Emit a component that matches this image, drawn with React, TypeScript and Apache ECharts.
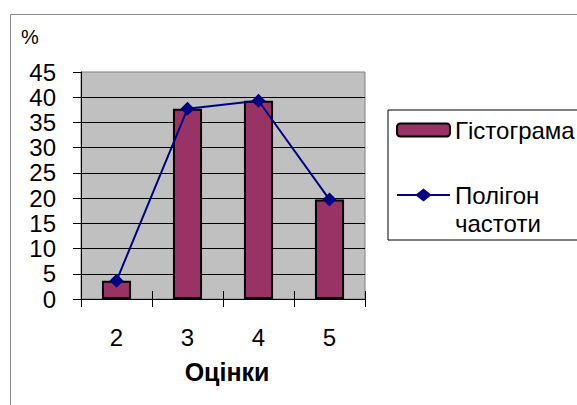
import React, { useEffect, useRef } from "react";
import * as echarts from "echarts";

const categories = ["2", "3", "4", "5"];
const histogramValues = [3.6, 37.7, 39.3, 19.7];
const polygonValues = [3.6, 37.7, 39.3, 19.7];
const barName = "Гістограма";
const lineName = "Полігон\nчастоти";
const xTitle = "Оцінки";
const yUnit = "%";

const FONT = 'Arial, "Liberation Sans", sans-serif';
const LINE_ICON = "path://M0,5.5 H19.5 L26.5,0 L33.5,5.5 H53 V7.5 H33.5 L26.5,13 L19.5,7.5 H0 Z";

export default function App() {
  const ref = useRef<HTMLDivElement>(null);
  useEffect(() => {
    if (!ref.current) return;
    const chart = echarts.init(ref.current, undefined, { renderer: "svg" });
    chart.setOption({
      animation: false,
      backgroundColor: "#ffffff",
      textStyle: { fontFamily: FONT },
      title: {
        text: yUnit,
        left: 21,
        top: 27,
        padding: 0,
        textStyle: { fontSize: 20, fontWeight: "normal", color: "#000", fontFamily: FONT },
      },
      graphic: [
        {
          type: "rect",
          shape: { x: 10.5, y: 14.5, width: 700, height: 500 },
          style: { fill: "none", stroke: "#8c8c8c", lineWidth: 1 },
          silent: true,
          z: -1,
        },
      ],
      grid: {
        left: 81,
        right: 212,
        top: 72,
        bottom: 106,
        show: true,
        backgroundColor: "#C0C0C0",
        borderColor: "#808080",
        borderWidth: 1,
        outerBoundsMode: "none",
      },
      legend: {
        orient: "vertical",
        left: 388,
        top: 110,
        padding: [6, 24, 3, 8],
        itemWidth: 53,
        itemHeight: 13,
        itemGap: 9,
        selectedMode: false,
        borderColor: "#000",
        borderWidth: 1,
        backgroundColor: "#fff",
        textStyle: { fontSize: 24, lineHeight: 28, color: "#000", fontFamily: FONT },
        formatter: (name: string) => (name === lineName ? "\n" + name : name),
        data: [
          { name: barName },
          { name: lineName, icon: LINE_ICON, itemStyle: { color: "#000080", borderWidth: 0 } },
        ],
      },
      xAxis: [
        {
          type: "category",
          data: categories,
          position: "bottom",
          axisLine: { lineStyle: { color: "#000", width: 1 } },
          axisTick: { show: true, length: 8, lineStyle: { color: "#000" } },
          axisLabel: { fontSize: 24, color: "#000", margin: 26, fontFamily: FONT },
          name: xTitle,
          nameLocation: "middle",
          nameGap: 60,
          nameTextStyle: { fontSize: 25, fontWeight: "bold", color: "#000", fontFamily: FONT, padding: [0, 0, 0, 8] },
        },
        {
          type: "category",
          data: categories,
          position: "bottom",
          axisLine: { show: false },
          axisTick: { show: true, inside: true, length: 8, lineStyle: { color: "#000" } },
          axisLabel: { show: false },
        },
      ],
      yAxis: {
        type: "value",
        min: 0,
        max: 45,
        interval: 5,
        axisLine: { show: true, lineStyle: { color: "#000", width: 1 } },
        axisTick: { show: true, length: 8, lineStyle: { color: "#000" } },
        axisLabel: { fontSize: 24, color: "#000", margin: 25, fontFamily: FONT },
        splitLine: { show: true, showMinLine: false, showMaxLine: false, lineStyle: { color: "#000", width: 1 } },
      },
      series: [
        {
          name: barName,
          type: "bar",
          data: histogramValues,
          barWidth: "41%",
          itemStyle: { color: "#993366", borderColor: "#000", borderWidth: 2 },
        },
        {
          name: lineName,
          type: "line",
          data: polygonValues,
          symbol: "diamond",
          symbolSize: 14,
          lineStyle: { color: "#000080", width: 2 },
          itemStyle: { color: "#000080" },
          z: 3,
        },
      ],
    });
    return () => chart.dispose();
  }, []);
  return <div ref={ref} style={{ width: 577, height: 405, position: "absolute", left: 0, top: 0 }} />;
}
